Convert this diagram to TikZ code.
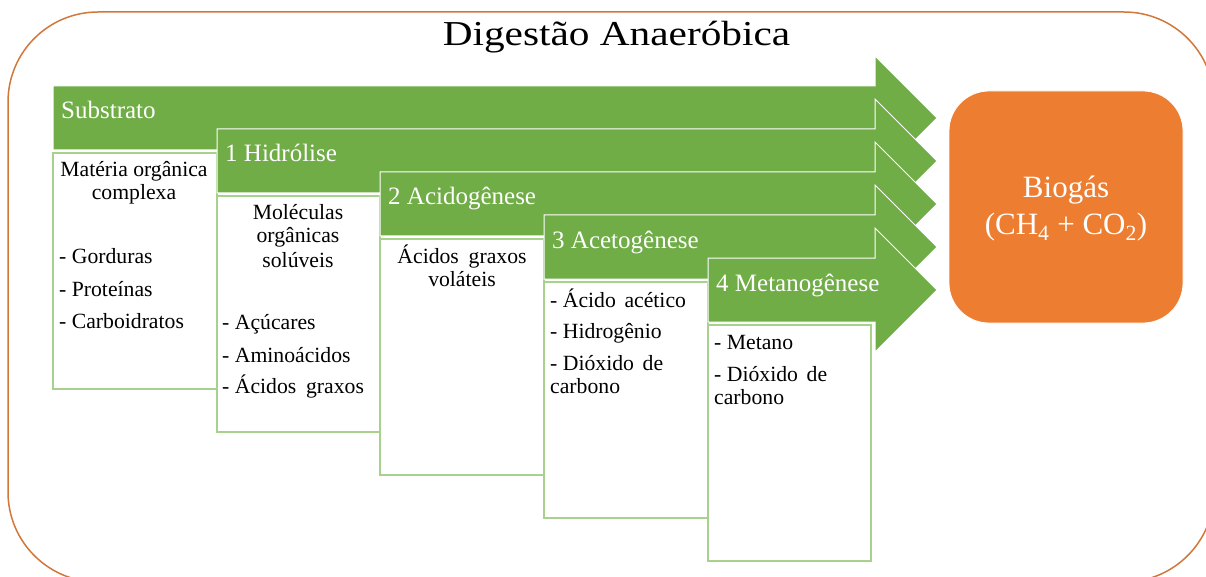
\documentclass[tikz,border=0pt]{standalone}
\usepackage{fontspec}
\setmainfont{Liberation Serif}
\definecolor{agreen}{HTML}{70AD47}
\definecolor{lgreen}{HTML}{A9D18E}
\definecolor{aorange}{HTML}{ED7D31}
\definecolor{oborder}{HTML}{D2773A}
\tikzset{
  stagearrow/.style={fill=agreen, draw=white, line width=1pt},
  prodbox/.style={fill=white, draw=lgreen, line width=1.5pt},
  stagelabel/.style={anchor=base west, text=white, inner sep=0pt, font=\fontsize{25}{30}\selectfont},
  bodyleft/.style={anchor=base west, text=black, inner sep=0pt, font=\fontsize{21.7}{25}\selectfont},
  bodymid/.style={anchor=base, text=black, inner sep=0pt, font=\fontsize{21.7}{25}\selectfont},
  biotxt/.style={anchor=base, text=white, inner sep=0pt, font=\fontsize{31}{36}\selectfont},
  titletxt/.style={anchor=base, text=black, inner sep=0pt, font=\fontsize{35}{40}\selectfont},
}
\newcommand\StageArrow[2]{%
  \path[stagearrow] (#1,{#2-32}) -- (875,{#2-32}) -- (875,{#2-62}) -- (937,#2)
    -- (875,{#2+62}) -- (875,{#2+32}) -- (#1,{#2+32}) -- cycle;}
\begin{document}
\begin{tikzpicture}[x=1pt,y=-1pt]
\useasboundingbox (0,0) rectangle (1206,577);
\clip (0,0) rectangle (1206,577);
% outer frame
\draw[oborder, line width=1.5pt, rounded corners=90pt] (8,12) rectangle (1214,582);
% title
\node[titletxt] (title) at (616.5,46) {\scalebox{1.18}[1]{Digestão Anaeróbica}};
% stage arrows and product boxes
\StageArrow{53}{118}
\path[prodbox] (53,153) rectangle (217,389);
\StageArrow{217}{161}
\path[prodbox] (217,196) rectangle (380,432);
\StageArrow{380}{204}
\path[prodbox] (380,239) rectangle (544,475);
\StageArrow{544}{247}
\path[prodbox] (544,282) rectangle (708,518);
\StageArrow{708}{290}
\path[prodbox] (708,325) rectangle (871,561);
% stage labels
\node[stagelabel] (s0) at (61,119) {Substrato};
\node[stagelabel] (s1) at (225,162) {1 Hidrólise};
\node[stagelabel] (s2) at (388,205) {2 Acidogênese};
\node[stagelabel] (s3) at (552,248) {3 Acetogênese};
\node[stagelabel] (s4) at (716,291) {4 Metanogênese};
% box 0
\node[bodymid] (b0a) at (134,177) {Matéria orgânica};
\node[bodymid] (b0b) at (134,200) {complexa};
\node[bodyleft] (b0c) at (59,263) {- Gorduras};
\node[bodyleft] (b0d) at (59,296) {- Proteínas};
\node[bodyleft] (b0e) at (59,328) {- Carboidratos};
% box 1
\node[bodymid] (b1a) at (298,220) {Moléculas};
\node[bodymid] (b1b) at (298,243) {orgânicas};
\node[bodymid] (b1c) at (298,267) {solúveis};
\node[bodyleft] (b1d) at (222,329) {- Açúcares};
\node[bodyleft] (b1e) at (222,362) {- Aminoácidos};
\node[bodyleft] (b1f) at (222,393) {- Ácidos\hspace{0.45em}graxos};
% box 2
\node[bodymid] (b2a) at (462,263) {Ácidos\hspace{0.45em}graxos};
\node[bodymid] (b2b) at (462,286) {voláteis};
% box 3
\node[bodyleft] (b3a) at (550,307) {- Ácido\hspace{0.4em}acético};
\node[bodyleft] (b3b) at (550,338) {- Hidrogênio};
\node[bodyleft] (b3c) at (550,370) {- Dióxido\hspace{0.4em}de};
\node[bodyleft] (b3d) at (550,393) {carbono};
% box 4
\node[bodyleft] (b4a) at (714,349) {- Metano};
\node[bodyleft] (b4b) at (714,381) {- Dióxido\hspace{0.4em}de};
\node[bodyleft] (b4c) at (714,404) {carbono};
% biogas
\path[fill=aorange, draw=white, line width=0.8pt, rounded corners=40pt] (949,91) rectangle (1183,323);
\node[biotxt] (bio1) at (1066,198) {Biogás};
\node[biotxt] (bio2) at (1066,235) {(CH\textsubscript{4} + CO\textsubscript{2})};
\end{tikzpicture}
\end{document}
